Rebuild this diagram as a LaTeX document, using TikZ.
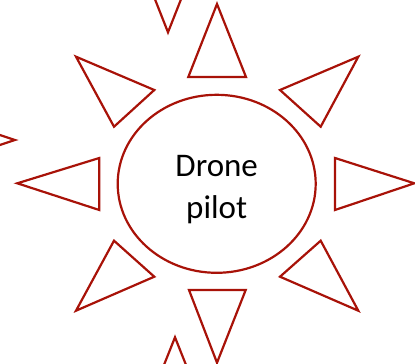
\documentclass[tikz,border=0pt]{standalone}
\usepackage{fontspec}
\setmainfont{Carlito}
\usepackage{tikz}
\usetikzlibrary{shapes.geometric}
\definecolor{sunred}{RGB}{168,18,8}
\tikzset{
  ray/.style={draw=sunred,line width=2.2pt,line join=miter},
  core/.style={ellipse,draw=sunred,line width=2.2pt,minimum width=198pt,minimum height=178pt,inner sep=0pt},
  lbl/.style={font=\fontsize{33}{42}\selectfont,align=center,inner sep=0pt},
}

\begin{document}
\begin{tikzpicture}[x=1pt,y=-1pt]
  \clip (0,0) rectangle (415,364);
  \useasboundingbox (0,0) rectangle (415,364);
  \node[core] (pilot) at (216.7,183.8) {};
  \node[lbl] (name) at ([yshift=-6pt]pilot.center) {Drone\\pilot};
  % rays round the ellipse
  \foreach \a/\b/\c in {
      {(217,4)}/{(188.3,77)}/{(246,77)},
      {(217,362.7)}/{(189,290)}/{(245.7,290)},
      {(17.3,183.3)}/{(99.3,158)}/{(99.3,210)},
      {(414.3,183.3)}/{(335,158)}/{(335,210)},
      {(76,56.7)}/{(154.3,90)}/{(114,126.7)},
      {(358.3,56.7)}/{(280,90)}/{(320.7,126.7)},
      {(76,310.7)}/{(114,240.7)}/{(154.3,276.7)},
      {(358.3,310.7)}/{(320.7,240.7)}/{(280,276.7)}}
    {\draw[ray] \a -- \b -- \c -- cycle;}
  % stray rays cut by the edge
  \draw[ray] (168,32.3) -- (139.5,-40) -- (196.5,-40) -- cycle;
  \draw[ray] (15,140) -- (-64,114) -- (-64,166) -- cycle;
  \draw[ray] (175,337.3) -- (146,410) -- (204,410) -- cycle;
\end{tikzpicture}
\end{document}
